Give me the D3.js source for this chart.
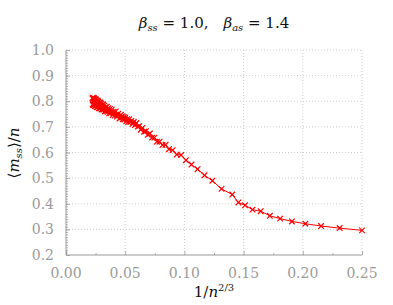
<!DOCTYPE html>
<html>
<head>
<meta charset="utf-8">
<script src="https://cdn.jsdelivr.net/npm/d3@7"></script>
<style>
  body { margin: 0; background: #fff; }
</style>
</head>
<body>
<div id="canvas"></div>
<script>
// data: system size n and the measured <m_ss>/n
var nValues = [8, 9, 10, 11, 12, 13, 14, 15, 16, 17, 18, 19,
  21, 23, 25, 27, 29, 31, 33, 35, 37, 39, 41, 43, 45, 47, 49, 51, 53, 55, 57, 59,
  61, 63, 65, 67, 69, 71, 73, 75, 77, 79, 81, 83, 85, 87, 89, 91, 93, 95, 97, 99,
  100, 104, 108, 112, 116, 120, 124, 128, 132, 136, 140, 144, 148, 152, 156, 160,
  164, 168, 172, 176, 180, 184, 188, 192, 196, 200, 204, 208, 212, 216, 220, 224,
  228, 232, 236, 240, 244, 248, 252, 256, 260, 264, 268, 272, 276, 280, 284, 288,
  292, 296, 300];
var mssValues = [0.296, 0.305, 0.313, 0.322, 0.331, 0.342, 0.353, 0.371, 0.377, 0.394, 0.405, 0.436,
  0.458, 0.490, 0.511, 0.535, 0.553, 0.570, 0.590, 0.592, 0.609, 0.613, 0.630, 0.629, 0.642, 0.642,
  0.658, 0.658, 0.674, 0.669, 0.683, 0.681,
  0.696, 0.689, 0.703, 0.701, 0.715, 0.707, 0.719, 0.711, 0.723, 0.719, 0.730, 0.719, 0.730, 0.722,
  0.737, 0.729, 0.739, 0.730, 0.741, 0.736,
  0.747, 0.733, 0.751, 0.740, 0.760, 0.744, 0.759, 0.746, 0.767, 0.754, 0.770, 0.753, 0.773, 0.759,
  0.779, 0.761, 0.777, 0.761, 0.783, 0.768, 0.788, 0.768, 0.786, 0.768, 0.791, 0.774, 0.795, 0.773,
  0.793, 0.773, 0.798, 0.779, 0.802, 0.778, 0.800, 0.777, 0.804, 0.783, 0.808, 0.782, 0.806, 0.781,
  0.809, 0.786, 0.812, 0.785, 0.811, 0.785, 0.814, 0.788, 0.811];
var xTicks = [0, 0.05, 0.10, 0.15, 0.20, 0.25];
var yTicks = [0.2, 0.3, 0.4, 0.5, 0.6, 0.7, 0.8, 0.9, 1.0];

var w = 393;
var h = 305;
var pLeft = 66, pRight = 362, pTop = 50, pBottom = 255;
var gray = "#9a9a9a";
var serif = "DejaVu Serif, Liberation Serif, serif";

var svg = d3.select("#canvas").append("svg").attr("width", w).attr("height", h);

var x = d3.scaleLinear().domain([0, 0.25]).range([pLeft, pRight]);
var y = d3.scaleLinear().domain([0.2, 1.0]).range([pBottom, pTop]);

// x on the axis is 1/n^(2/3)
var points = nValues.map(function(n, i) {
  return { x: 1 / Math.pow(n, 2 / 3), y: mssValues[i] };
});

// dotted grid
svg.append("g").selectAll("line").data(xTicks.slice(1)).enter().append("line")
  .attr("x1", d => x(d)).attr("x2", d => x(d))
  .attr("y1", pTop).attr("y2", pBottom)
  .style("stroke", "#cfcfcf").style("stroke-dasharray", "1,2");
svg.append("g").selectAll("line").data(yTicks.slice(1)).enter().append("line")
  .attr("x1", pLeft).attr("x2", pRight)
  .attr("y1", d => y(d)).attr("y2", d => y(d))
  .style("stroke", "#cfcfcf").style("stroke-dasharray", "1,2");

// axes, ticks pointing inward
var xAxis = d3.axisTop(x).tickValues(xTicks).tickSize(4).tickFormat("");
var xMinor = d3.axisTop(x).tickValues([0.025, 0.075, 0.125, 0.175, 0.225]).tickSize(2).tickFormat("");
var yAxis = d3.axisRight(y).tickValues(yTicks).tickSize(4).tickFormat("");
var yMinor = d3.axisRight(y).tickValues(d3.range(21, 100).map(d => d / 100)).tickSize(2).tickFormat("");

[[xAxis, "translate(0," + pBottom + ")"], [xMinor, "translate(0," + pBottom + ")"],
 [yAxis, "translate(" + pLeft + ",0)"], [yMinor, "translate(" + pLeft + ",0)"]].forEach(function(a) {
  var g = svg.append("g").attr("transform", a[1]).call(a[0]);
  g.selectAll("line").style("stroke", gray).style("stroke-width", 0.8);
  g.select(".domain").remove();
});
svg.append("line").attr("x1", pLeft).attr("x2", pRight).attr("y1", pBottom).attr("y2", pBottom)
  .style("stroke", gray);
svg.append("line").attr("x1", pLeft).attr("x2", pLeft).attr("y1", pTop).attr("y2", pBottom)
  .style("stroke", gray);

// tick labels
svg.append("g").selectAll("text").data(xTicks).enter().append("text")
  .attr("x", d => x(d)).attr("y", 278).attr("font-family", serif)
  .attr("text-anchor", "middle").attr("font-size", 14).attr("fill", gray)
  .text(d => d.toFixed(2));
svg.append("g").selectAll("text").data(yTicks).enter().append("text")
  .attr("x", 54).attr("y", d => y(d) + 5).attr("font-family", serif)
  .attr("text-anchor", "end").attr("font-size", 14).attr("fill", gray)
  .text(d => d.toFixed(1));

// title
var title = svg.append("text").attr("x", 214).attr("y", 28).attr("text-anchor", "middle")
  .attr("font-family", serif).attr("font-size", 15).attr("fill", "#111");
title.append("tspan").attr("font-style", "italic").text("β");
title.append("tspan").attr("font-style", "italic").attr("font-size", 10).attr("dy", 3).text("ss");
title.append("tspan").attr("dy", -3).text(" = 1.0,\u2003");
title.append("tspan").attr("font-style", "italic").text("β");
title.append("tspan").attr("font-style", "italic").attr("font-size", 10).attr("dy", 3).text("as");
title.append("tspan").attr("dy", -3).text(" = 1.4");

// x label
var xl = svg.append("text").attr("x", 214).attr("y", 297).attr("text-anchor", "middle")
  .attr("font-family", serif).attr("font-size", 15).attr("fill", "#111");
xl.append("tspan").text("1/");
xl.append("tspan").attr("font-style", "italic").text("n");
xl.append("tspan").attr("font-size", 10).attr("dy", -6).text("2/3");

// y label
var yl = svg.append("text").attr("transform", "translate(19,153) rotate(-90)")
  .attr("font-family", serif).attr("text-anchor", "middle").attr("font-size", 15).attr("fill", "#111");
yl.append("tspan").text("\u27E8");
yl.append("tspan").attr("font-style", "italic").text("m");
yl.append("tspan").attr("font-style", "italic").attr("font-size", 10).attr("dy", 3).text("ss");
yl.append("tspan").attr("dy", -3).text("\u27E9/");
yl.append("tspan").attr("font-style", "italic").text("n");

// line + x markers
var line = d3.line().x(d => x(d.x)).y(d => y(d.y));
svg.append("path").datum(points).attr("d", line)
  .style("fill", "none").style("stroke", "#ff0000").style("stroke-width", 1);

var s = 2.8;
svg.append("g").selectAll("path").data(points).enter().append("path")
  .attr("d", d => "M" + (x(d.x) - s) + "," + (y(d.y) - s) + "L" + (x(d.x) + s) + "," + (y(d.y) + s) +
    "M" + (x(d.x) - s) + "," + (y(d.y) + s) + "L" + (x(d.x) + s) + "," + (y(d.y) - s))
  .style("stroke", "#ff0000").style("stroke-width", 1.2).style("fill", "none");
</script>
</body>
</html>
